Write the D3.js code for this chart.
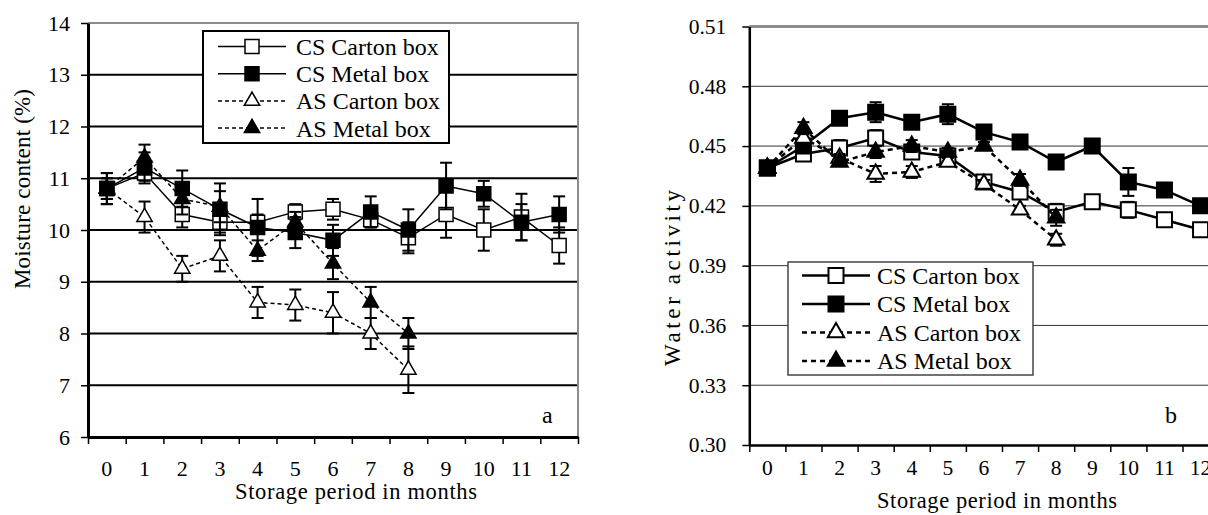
<!DOCTYPE html>
<html>
<head>
<meta charset="utf-8">
<script src="https://cdn.jsdelivr.net/npm/d3@7"></script>
<style>
  body { margin: 0; background: #fff; }
  svg { display: block; }
  svg text { font-family: "Liberation Serif", "Times New Roman", "DejaVu Serif", serif; }
</style>
</head>
<body>
<svg id="chart" width="1208" height="515"></svg>
<script>
// storage months (x categories)
const months = [0, 1, 2, 3, 4, 5, 6, 7, 8, 9, 10, 11, 12];
const seriesNames = ["CS Carton box", "CS Metal box", "AS Carton box", "AS Metal box"];

// panel a - moisture content (%)
const moistCSCarton = [10.8, 11.1, 10.3, 10.15, 10.15, 10.35, 10.4, 10.2, 9.85, 10.3, 10.0, 10.25, 9.7];
const moistCSCartonErr = [0.3, 0.15, 0.25, 0.2, 0.15, 0.15, 0.2, 0.15, 0.3, 0.45, 0.4, 0.45, 0.35];
const moistCSMetal = [10.8, 11.2, 10.8, 10.4, 10.05, 9.95, 9.8, 10.35, 10.0, 10.85, 10.7, 10.15, 10.3];
const moistCSMetalErr = [0.3, 0.3, 0.35, 0.5, 0.55, 0.3, 0.3, 0.3, 0.4, 0.45, 0.25, 0.35, 0.35];
const moistASCarton = [10.8, 10.25, 9.25, 9.5, 8.6, 8.55, 8.4, 8.0, 7.3];
const moistASCartonErr = [0.2, 0.3, 0.25, 0.3, 0.3, 0.3, 0.4, 0.3, 0.45];
const moistASMetal = [10.8, 11.4, 10.6, 10.45, 9.6, 10.15, 9.35, 8.6, 8.0];
const moistASMetalErr = [0.2, 0.25, 0.3, 0.3, 0.2, 0.2, 0.3, 0.3, 0.3];
const moistTicks = [6, 7, 8, 9, 10, 11, 12, 13, 14];

// panel b - water activity
const awCSCarton = [0.439, 0.446, 0.449, 0.454, 0.447, 0.445, 0.432, 0.427, 0.417, 0.422, 0.418, 0.413, 0.408];
const awCSCartonErr = [0.002, 0.002, 0.004, 0.004, 0.003, 0.002, 0.003, 0.002, 0.004, 0.002, 0.004, 0.002, 0.002];
const awCSMetal = [0.439, 0.450, 0.464, 0.467, 0.462, 0.466, 0.457, 0.452, 0.442, 0.450, 0.432, 0.428, 0.420];
const awCSMetalErr = [0.002, 0.002, 0.003, 0.005, 0.002, 0.005, 0.002, 0.002, 0.002, 0.002, 0.007, 0.003, 0.002];
const awASCarton = [0.439, 0.454, 0.444, 0.436, 0.437, 0.442, 0.431, 0.418, 0.403];
const awASCartonErr = [0.002, 0.004, 0.002, 0.004, 0.003, 0.002, 0.002, 0.002, 0.003];
const awASMetal = [0.439, 0.459, 0.442, 0.447, 0.450, 0.447, 0.450, 0.433, 0.414];
const awASMetalErr = [0.002, 0.003, 0.002, 0.003, 0.003, 0.002, 0.002, 0.003, 0.004];
const awTicks = [0.30, 0.33, 0.36, 0.39, 0.42, 0.45, 0.48, 0.51];

// marker / line look of the four series
const looks = [
  { shape: d3.symbolSquare, fill: "#fff", dash: null },
  { shape: d3.symbolSquare, fill: "#000", dash: null },
  { shape: d3.symbolTriangle, fill: "#fff", dash: "4,3" },
  { shape: d3.symbolTriangle, fill: "#000", dash: "4,3" }
];

const svg = d3.select("#chart");
const serif = "Liberation Serif, Times New Roman, serif";

function marker(g, look, x, y, sq, sw) {
  const size = look.shape === d3.symbolSquare ? sq * sq : sq * sq * 0.52;
  g.append("path")
    .attr("transform", "translate(" + x + "," + y + ")")
    .attr("d", d3.symbol().type(look.shape).size(size)())
    .attr("fill", look.fill)
    .attr("stroke", "#000")
    .attr("stroke-width", sw);
}

function drawPanel(p) {
  const g = svg.append("g");
  const x = d3.scaleBand().domain(months).range([p.left, p.right]);
  const xEdge = d3.scaleLinear().domain([0, months.length]).range([p.left, p.right]);
  const y = d3.scaleLinear().domain([p.ticks[0], p.ticks[p.ticks.length - 1]]).range([p.bottom, p.top]);

  // grid lines
  g.append("g")
    .selectAll("line")
    .data(p.ticks.slice(1, -1))
    .join("line")
    .attr("x1", p.left).attr("x2", p.right)
    .attr("y1", d => y(d)).attr("y2", d => y(d))
    .attr("stroke", p.gridColor)
    .attr("stroke-width", p.gridWidth);

  // gray frame top + right
  g.append("path")
    .attr("d", "M" + p.left + "," + y(p.ticks[p.ticks.length - 1]) + "H" + p.right + "V" + p.bottom)
    .attr("fill", "none")
    .attr("stroke", "#8c8c8c")
    .attr("stroke-width", p.frameWidth);

  // x axis: ticks on band edges, labels on band centres
  const xa = g.append("g")
    .attr("transform", "translate(0," + p.bottom + ")")
    .call(d3.axisBottom(xEdge).tickValues(d3.range(0, months.length + 1)).tickFormat("").tickSize(7).tickSizeOuter(0));
  xa.select(".domain").attr("stroke-width", p.axisWidth);
  xa.selectAll(".tick line").attr("stroke-width", 1.5);

  g.append("g")
    .attr("transform", "translate(0," + p.bottom + ")")
    .call(d3.axisBottom(x).tickSize(0).tickPadding(p.xLabelPad))
    .call(a => a.select(".domain").remove())
    .attr("font-family", serif)
    .selectAll("text")
    .attr("font-size", p.tickFont)
    .attr("fill", "#000");

  // y axis
  const ya = g.append("g")
    .attr("transform", "translate(" + p.left + ",0)")
    .call(d3.axisLeft(y).tickValues(p.ticks).tickFormat(p.fmt).tickSize(7).tickSizeOuter(0).tickPadding(p.yLabelPad))
    .attr("font-family", serif);
  ya.select(".domain").attr("stroke-width", p.axisWidth);
  ya.selectAll(".tick line").attr("stroke-width", 1.5);
  ya.selectAll("text")
    .attr("font-size", p.tickFont)
    .attr("fill", "#000");

  // axis titles
  g.append("text")
    .attr("x", p.xTitleX).attr("y", p.xTitleY)
    .attr("text-anchor", "middle")
    .attr("font-size", 22.5)
    .attr("textLength", p.xTitleLen).attr("lengthAdjust", "spacing")
    .text("Storage period in months");
  g.append("text")
    .attr("transform", "translate(" + p.yTitleX + "," + p.yTitleY + ") rotate(-90)")
    .attr("text-anchor", "middle")
    .attr("font-size", 23)
    .attr("textLength", p.yTitleLen).attr("lengthAdjust", "spacing")
    .text(p.yTitle);

  g.append("text")
    .attr("x", p.tagX).attr("y", 423)
    .attr("font-size", 24)
    .text(p.tag);

  // series: lines, error bars, markers
  p.series.forEach((s, i) => {
    const look = looks[i];
    const pts = s.values.map((v, j) => ({ x: x(months[j]) + x.bandwidth() / 2, v: v, e: s.err[j] }));
    g.append("path")
      .datum(pts)
      .attr("d", d3.line().x(d => d.x).y(d => y(d.v)))
      .attr("fill", "none")
      .attr("stroke", "#000")
      .attr("stroke-width", p.lineWidth)
      .attr("stroke-dasharray", look.dash ? p.dash : null);
    const eb = g.append("g").attr("stroke", "#000").attr("stroke-width", 2);
    pts.forEach(d => {
      eb.append("line").attr("x1", d.x).attr("x2", d.x).attr("y1", y(d.v - d.e)).attr("y2", y(d.v + d.e));
      eb.append("line").attr("x1", d.x - 6).attr("x2", d.x + 6).attr("y1", y(d.v - d.e)).attr("y2", y(d.v - d.e));
      eb.append("line").attr("x1", d.x - 6).attr("x2", d.x + 6).attr("y1", y(d.v + d.e)).attr("y2", y(d.v + d.e));
    });
    pts.forEach(d => marker(g, look, d.x, y(d.v), p.markerSize, p.markerStroke));
  });

  // legend
  const L = p.legend;
  const lg = g.append("g");
  lg.append("rect")
    .attr("x", L.x).attr("y", L.y).attr("width", L.w).attr("height", L.h)
    .attr("fill", "#fff").attr("stroke", L.stroke).attr("stroke-width", L.sw);
  seriesNames.forEach((name, i) => {
    const cy = L.row0 + i * L.step;
    lg.append("line")
      .attr("x1", L.lineX0).attr("x2", L.lineX1).attr("y1", cy).attr("y2", cy)
      .attr("stroke", "#000").attr("stroke-width", p.lineWidth)
      .attr("stroke-dasharray", looks[i].dash ? p.dash : null);
    marker(lg, looks[i], (L.lineX0 + L.lineX1) / 2, cy, p.markerSize, p.markerStroke);
    lg.append("text")
      .attr("x", L.textX).attr("y", cy).attr("dy", "0.35em")
      .attr("font-size", 24)
      .text(name);
  });
}

drawPanel({
  left: 88, right: 578, top: 23, bottom: 437,
  ticks: moistTicks, fmt: d3.format("d"),
  gridColor: "#000", gridWidth: 2, frameWidth: 2, axisWidth: 3,
  tickFont: 22, xLabelPad: 23, yLabelPad: 11,
  lineWidth: 1.5, dash: "4,3", markerSize: 14, markerStroke: 1.5,
  xTitleX: 356, xTitleY: 499, xTitleLen: 242,
  yTitleX: 30, yTitleY: 189, yTitleLen: 200, yTitle: "Moisture content (%)",
  tagX: 542, tag: "a",
  series: [
    { values: moistCSCarton, err: moistCSCartonErr },
    { values: moistCSMetal, err: moistCSMetalErr },
    { values: moistASCarton, err: moistASCartonErr },
    { values: moistASMetal, err: moistASMetalErr }
  ],
  legend: { x: 203, y: 31, w: 246, h: 112, stroke: "#000", sw: 2,
            row0: 46.5, step: 27.2, lineX0: 218, lineX1: 286, textX: 296 }
});

drawPanel({
  left: 749.3, right: 1218.6, top: 26.5, bottom: 445,
  ticks: awTicks, fmt: d3.format(".2f"),
  gridColor: "#333", gridWidth: 1, frameWidth: 3, axisWidth: 2.5,
  tickFont: 21.5, xLabelPad: 15, yLabelPad: 16,
  lineWidth: 2.5, dash: "5,4", markerSize: 15, markerStroke: 2,
  xTitleX: 997, xTitleY: 508, xTitleLen: 240,
  yTitleX: 680, yTitleY: 278, yTitleLen: 176, yTitle: "Water activity",
  tagX: 1165, tag: "b",
  series: [
    { values: awCSCarton, err: awCSCartonErr },
    { values: awCSMetal, err: awCSMetalErr },
    { values: awASCarton, err: awASCartonErr },
    { values: awASMetal, err: awASMetalErr }
  ],
  legend: { x: 788, y: 262, w: 245, h: 113, stroke: "#444", sw: 1.5,
            row0: 275.5, step: 28.5, lineX0: 802, lineX1: 870, textX: 877 }
});
</script>
</body>
</html>
